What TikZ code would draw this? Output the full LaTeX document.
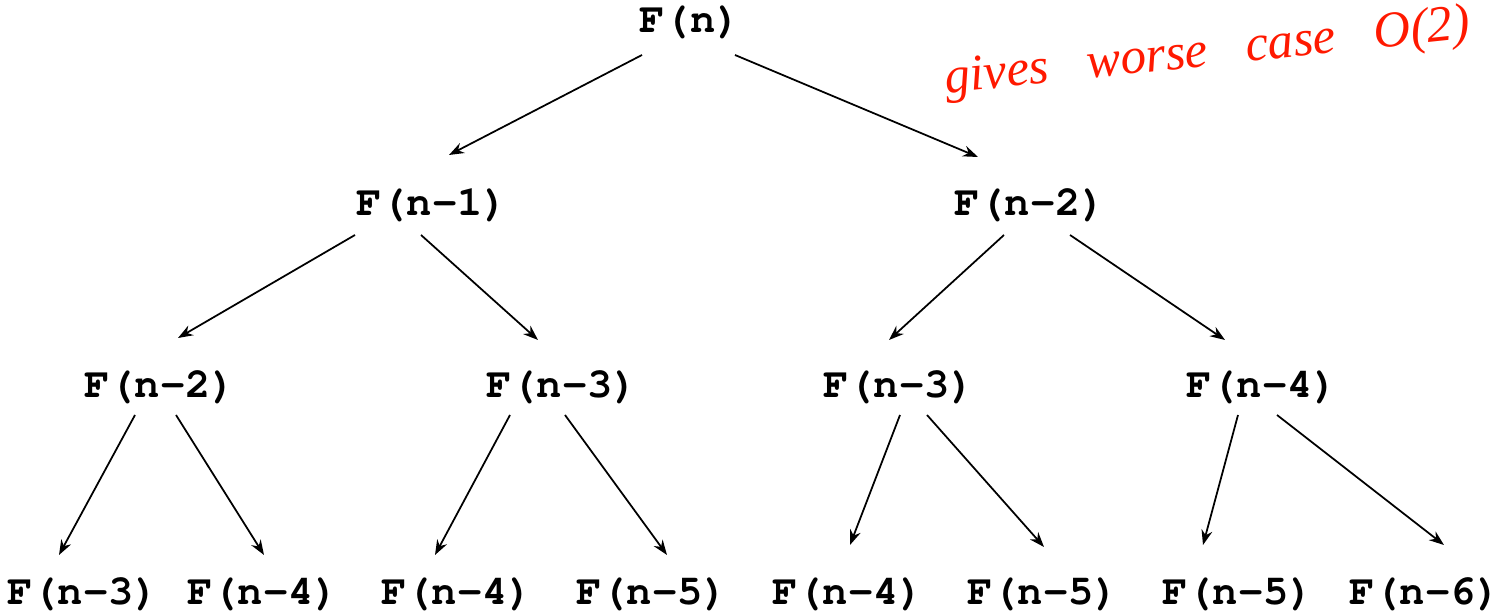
\documentclass[tikz,border=0pt]{standalone}
\usepackage{fontspec}
\setmonofont{TeX Gyre Cursor}
\setmainfont{Liberation Serif}
\usepackage{tikz}
\usetikzlibrary{arrows.meta}

\begin{document}
\begin{tikzpicture}[
  >={Stealth[length=3mm,width=2.2mm]},
  call/.style={inner sep=0pt, font=\fontsize{24}{27}\selectfont\ttfamily\bfseries},
  arr/.style={->, line width=1pt},
  note/.style={text=red!80!orange, font=\fontsize{29}{34}\selectfont\itshape, rotate=6, anchor=base west},
]
\useasboundingbox (0,0) rectangle (30.04,12.28);

% root and first level
\node[call] (n)   at (13.8, 11.84) {F(n)};
\node[call] (n1)  at (8.64, 8.18)  {F(n-1)};
\node[call] (n2)  at (20.6, 8.18)  {F(n-2)};

% second level
\node[call] (n12) at (3.2, 4.54)   {F(n-2)};
\node[call] (n13) at (11.24, 4.54) {F(n-3)};
\node[call] (n23) at (17.98, 4.54) {F(n-3)};
\node[call] (n24) at (25.24, 4.54) {F(n-4)};

% third level
\node[call] (a1) at (1.66, 0.4)  {F(n-3)};
\node[call] (a2) at (5.26, 0.4)  {F(n-4)};
\node[call] (b1) at (9.14, 0.4)  {F(n-4)};
\node[call] (b2) at (13.04, 0.4) {F(n-5)};
\node[call] (c1) at (16.96, 0.4) {F(n-4)};
\node[call] (c2) at (20.86, 0.4) {F(n-5)};
\node[call] (d1) at (24.76, 0.4) {F(n-5)};
\node[call] (d2) at (28.5, 0.4)  {F(n-6)};

\draw[arr] ([shift={(-0.96,-0.66)}]n.center) -- ([shift={(0.34,1.0)}]n1.center);
\draw[arr] ([shift={(0.9,-0.66)}]n.center) -- ([shift={(-1.04,0.96)}]n2.center);

\draw[arr] ([shift={(-1.54,-0.6)}]n1.center) -- ([shift={(0.36,0.98)}]n12.center);
\draw[arr] ([shift={(-0.22,-0.6)}]n1.center) -- ([shift={(-0.48,0.94)}]n13.center);
\draw[arr] ([shift={(-0.52,-0.6)}]n2.center) -- ([shift={(-0.2,0.94)}]n23.center);
\draw[arr] ([shift={(0.8,-0.6)}]n2.center) -- ([shift={(-0.74,0.94)}]n24.center);

\draw[arr] ([shift={(-0.5,-0.56)}]n12.center) -- ([shift={(-0.48,0.78)}]a1.center);
\draw[arr] ([shift={(0.32,-0.56)}]n12.center) -- ([shift={(0.02,0.78)}]a2.center);
\draw[arr] ([shift={(-1.04,-0.56)}]n13.center) -- ([shift={(-0.44,0.78)}]b1.center);
\draw[arr] ([shift={(0.06,-0.56)}]n13.center) -- ([shift={(0.3,0.78)}]b2.center);
\draw[arr] ([shift={(0.02,-0.56)}]n23.center) -- ([shift={(0.04,0.98)}]c1.center);
\draw[arr] ([shift={(0.56,-0.56)}]n23.center) -- ([shift={(0.02,0.94)}]c2.center);
\draw[arr] ([shift={(-0.48,-0.56)}]n24.center) -- ([shift={(-0.7,0.98)}]d1.center);
\draw[arr] ([shift={(0.3,-0.56)}]n24.center) -- ([shift={(0.38,0.98)}]d2.center);

% handwritten remark
\node[note] (rem) at (18.8, 10.4) {gives\ \ \ worse\ \ \ case\ \ \ O(2)};
\end{tikzpicture}
\end{document}
